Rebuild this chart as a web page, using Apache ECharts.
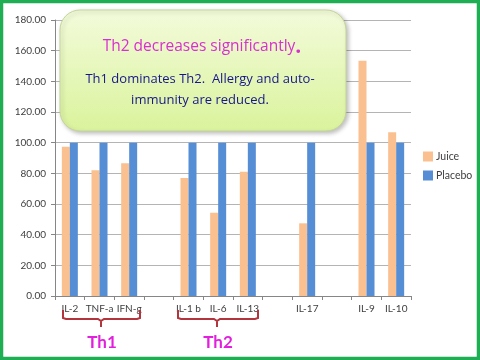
<!DOCTYPE html>
<html>
<head>
<meta charset="utf-8">
<script src="https://cdn.jsdelivr.net/npm/echarts@6/dist/echarts.min.js"></script>
<style>
html,body{margin:0;padding:0;background:#fff;}
#c{width:480px;height:360px;}
</style>
</head>
<body>
<div id="c"></div>
<script>
var categories = ['IL-2', 'TNF-a', 'IFN-g', '', 'IL-1 b', 'IL-6', 'IL-13', ' ', 'IL-17', '  ', 'IL-9', 'IL-10'];
var juice = [97.4, 82.0, 86.5, null, 77.0, 54.3, 81.0, null, 47.4, null, 153.5, 106.8];
var placebo = [100, 100, 100, null, 100, 100, 100, null, 100, null, 100, 100];
var yTicks = [0, 20, 40, 60, 80, 100, 120, 140, 160, 180];
var seriesNames = ['Juice', 'Placebo'];
var calloutTitle = 'Th2 decreases significantly';
var calloutLine1 = 'Th1 dominates Th2.  Allergy and auto-';
var calloutLine2 = 'immunity are reduced.';
var groupLabels = ['Th1', 'Th2'];

var chart = echarts.init(document.getElementById('c'), null, {renderer: 'canvas'});
var FONT = 'Lato, "Noto Sans", sans-serif';
var CFONT = '"Open Sans", "Noto Sans", sans-serif';
var option = {
  animation: false,
  backgroundColor: '#ffffff',
  grid: {left: 55, right: 69, top: 20, bottom: 64, containLabel: false},
  legend: {
    data: seriesNames,
    orient: 'vertical',
    left: 418, top: 146,
    padding: 5,
    itemWidth: 10, itemHeight: 10, itemGap: 8,
    icon: 'rect',
    textStyle: {color: '#404040', fontSize: 10.5, fontFamily: FONT, padding: [0, 0, 0, -2]}
  },
  xAxis: {
    type: 'category',
    data: categories,
    boundaryGap: true,
    axisLine: {lineStyle: {color: '#868686', width: 1}},
    axisTick: {show: true, length: 4, lineStyle: {color: '#868686'}, alignWithLabel: false},
    axisLabel: {color: '#404040', fontSize: 10, fontFamily: FONT, margin: 8, interval: 0}
  },
  yAxis: {
    type: 'value',
    min: yTicks[0], max: yTicks[yTicks.length - 1], interval: yTicks[1] - yTicks[0],
    axisLine: {show: true, lineStyle: {color: '#868686', width: 1}},
    axisTick: {show: true, length: 4, lineStyle: {color: '#868686'}},
    axisLabel: {color: '#404040', fontSize: 10, fontFamily: FONT, margin: 9,
      formatter: function (v) { return v.toFixed(2); }},
    splitLine: {lineStyle: {color: '#b4b4b4', width: 1}}
  },
  series: [
    {name: seriesNames[0], type: 'bar', data: juice, barWidth: 8, barGap: '0%',
     itemStyle: {color: '#FAC090'}},
    {name: seriesNames[1], type: 'bar', data: placebo, barWidth: 8, barGap: '0%',
     itemStyle: {color: '#558ED5'}}
  ],
  graphic: [
    {type: 'rect', z: 100, silent: true,
     shape: {x: 60, y: 10, width: 286, height: 121, r: 20},
     style: {
       fill: new echarts.graphic.LinearGradient(0, 0, 0, 1, [
         {offset: 0, color: '#f3fbdb'}, {offset: 1, color: '#daf39c'}]),
       stroke: '#c5d59a', lineWidth: 1,
       shadowBlur: 4, shadowOffsetX: 2, shadowOffsetY: 2, shadowColor: 'rgba(0,0,0,0.25)'
     }},
    {type: 'text', z: 101, silent: true, x: 202, y: 47,
     style: {text: '{a|' + calloutTitle + '}{b|.}', align: 'center', verticalAlign: 'middle',
       rich: {
         a: {fill: '#d92fcf', fontSize: 15.5, fontFamily: CFONT},
         b: {fill: '#d92fcf', fontSize: 21, fontWeight: 'bold', fontFamily: CFONT}
       }}},
    {type: 'text', z: 101, silent: true, x: 200, y: 79,
     style: {text: calloutLine1, align: 'center', verticalAlign: 'middle',
       fill: '#16168a', fontSize: 13, fontFamily: CFONT}},
    {type: 'text', z: 101, silent: true, x: 200, y: 100,
     style: {text: calloutLine2, align: 'center', verticalAlign: 'middle',
       fill: '#16168a', fontSize: 13, fontFamily: CFONT}},
    {type: 'polyline', z: 50, silent: true,
     shape: {points: [[63, 310], [63, 318], [66, 319], [98, 319], [101, 321], [101, 327], [101, 321], [104, 319], [137, 319], [140, 318], [140, 310]]},
     style: {stroke: '#b3343c', lineWidth: 2, fill: null}},
    {type: 'polyline', z: 50, silent: true,
     shape: {points: [[178, 310], [178, 318], [181, 319], [214, 319], [217, 321], [217, 327], [217, 321], [220, 319], [255, 319], [258, 318], [258, 310]]},
     style: {stroke: '#b3343c', lineWidth: 2, fill: null}},
    {type: 'text', z: 50, silent: true, x: 102, y: 343,
     style: {text: groupLabels[0], align: 'center', verticalAlign: 'middle',
       fill: '#e11fdc', fontSize: 17, fontWeight: 'bold', fontFamily: FONT}},
    {type: 'text', z: 50, silent: true, x: 218, y: 343,
     style: {text: groupLabels[1], align: 'center', verticalAlign: 'middle',
       fill: '#e11fdc', fontSize: 17, fontWeight: 'bold', fontFamily: FONT}},
    {type: 'rect', z: 200, silent: true,
     shape: {x: 1.5, y: 1.5, width: 477, height: 357},
     style: {fill: null, stroke: '#1fae54', lineWidth: 3.5}}
  ]
};
chart.setOption(option);
</script>
</body>
</html>
